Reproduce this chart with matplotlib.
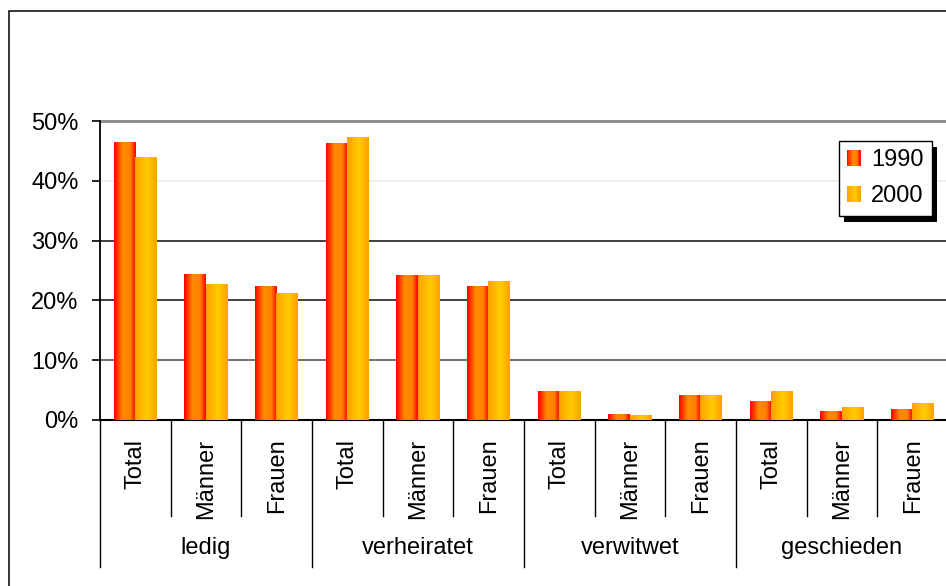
import matplotlib
matplotlib.use("Agg")
import matplotlib.pyplot as plt
import numpy as np
from matplotlib.colors import LinearSegmentedColormap
from matplotlib.patches import Rectangle
from matplotlib.legend_handler import HandlerBase
import matplotlib.transforms as mtransforms

# data (shares of population by civil status)
groups = ["ledig", "verheiratet", "verwitwet", "geschieden"]
subcats = ["Total", "Männer", "Frauen"]
values_1990 = [46.4, 24.4, 22.4, 46.2, 24.1, 22.4, 4.7, 0.9, 4.1, 3.1, 1.4, 1.7]
values_2000 = [43.9, 22.7, 21.2, 47.2, 24.1, 23.1, 4.7, 0.8, 4.1, 4.7, 2.1, 2.7]
yticks = [0, 10, 20, 30, 40, 50]

plt.rcParams['font.family'] = ['Liberation Sans', 'DejaVu Sans']
FS = 17

# horizontal gradients like the old Excel fill
cmap_1990 = LinearSegmentedColormap.from_list(
    "c1990", [(0, "#ff0000"), (0.4, "#ff8c00"), (0.75, "#ff8000"), (1, "#ff0000")])
cmap_2000 = LinearSegmentedColormap.from_list(
    "c2000", [(0, "#ffa000"), (0.55, "#ffcc00"), (1, "#ffa000")])

fig = plt.figure(figsize=(9.46, 5.86), dpi=100)
ax = fig.add_axes([100 / 946, 1 - 420 / 586, 848 / 946, 299 / 586])

n = len(values_1990)
x = np.arange(n)
w = 0.30
grad = np.linspace(0, 1, 64).reshape(1, -1)

bars1 = ax.bar(x - 0.155, values_1990, w, facecolor="none", edgecolor="none", zorder=3)
bars2 = ax.bar(x + 0.145, values_2000, w, facecolor="none", edgecolor="none", zorder=3)
for bars, cm in ((bars1, cmap_1990), (bars2, cmap_2000)):
    for b in bars:
        x0, y0 = b.get_x(), b.get_y()
        ax.imshow(grad, cmap=cm, aspect="auto", interpolation="bilinear",
                  extent=[x0, x0 + b.get_width(), y0, y0 + b.get_height()], zorder=3)

ax.set_xlim(-0.5, n - 0.5)
ax.set_ylim(0, 50)

# gridlines (the 40% one is very faint in the original)
grid_cols = {10: "#707070", 20: "#404040", 30: "#404040", 40: "#eeeeee", 50: "#888888"}
for yv, c in grid_cols.items():
    ax.axhline(yv, color=c, lw=2.0 if yv == 50 else 1.4, zorder=1, clip_on=False)

ax.set_yticks(yticks)
ax.set_yticklabels([f"{v}%" for v in yticks], fontsize=FS)
ax.tick_params(axis="y", direction="out", length=6, width=1.2, pad=9.5, color="black")
ax.set_xticks([])
for s in ("top", "right"):
    ax.spines[s].set_visible(False)
ax.spines["left"].set_linewidth(1.3)
ax.spines["bottom"].set_linewidth(1.5)

# category and group labels below the axis
trans = mtransforms.blended_transform_factory(ax.transData, ax.transAxes)
for i in range(n):
    ax.text(i, -0.062, subcats[i % 3], rotation=90, ha="center", va="top",
            fontsize=FS, transform=trans)
for k in range(n + 1):
    bottom = -0.492 if k % 3 == 0 else -0.321
    ax.plot([k - 0.5, k - 0.5], [0, bottom], color="black", lw=1.0,
            transform=trans, clip_on=False)
for g, name in enumerate(groups):
    ax.text(3 * g + 1, -0.428, name, ha="center", va="center", fontsize=FS,
            transform=trans)


class GradientHandler(HandlerBase):
    def __init__(self, cm):
        super().__init__()
        self.cm = cm

    def create_artists(self, legend, orig_handle, xdescent, ydescent,
                       width, height, fontsize, trans):
        arts = []
        steps = 12
        for j in range(steps):
            r = Rectangle((-xdescent + width * j / steps, -ydescent), width / steps + 0.3,
                          height, facecolor=self.cm((j + 0.5) / steps),
                          edgecolor="none", transform=trans)
            arts.append(r)
        return arts


h1 = Rectangle((0, 0), 1, 1)
h2 = Rectangle((0, 0), 1, 1)
leg = fig.legend([h1, h2], ["1990", "2000"], loc="upper left",
                 bbox_to_anchor=(839 / 946, 1 - 141 / 586), borderaxespad=0,
                 fontsize=FS,
                 handler_map={h1: GradientHandler(cmap_1990), h2: GradientHandler(cmap_2000)},
                 handlelength=0.55, handleheight=0.7, handletextpad=0.45,
                 labelspacing=0.6, borderpad=0.35, fancybox=False, framealpha=1,
                 edgecolor="black")
leg.get_frame().set_linewidth(1.0)
leg.set_zorder(10)

# black drop shadow behind legend
fig.canvas.draw()
bb = leg.get_window_extent().transformed(fig.transFigure.inverted())
fig.patches.append(Rectangle((bb.x0 + 5 / 946, bb.y0 - 6 / 586), bb.width, bb.height,
                             facecolor="black", edgecolor="none",
                             transform=fig.transFigure, zorder=9))

# outer chart frame (cut off at right and bottom)
fig.patches.append(Rectangle((9 / 946, -0.1), 1.2, 1.1 - 11 / 586, fill=False,
                             edgecolor="black", lw=1.1, transform=fig.transFigure))

fig.savefig("out.png", dpi=100)
